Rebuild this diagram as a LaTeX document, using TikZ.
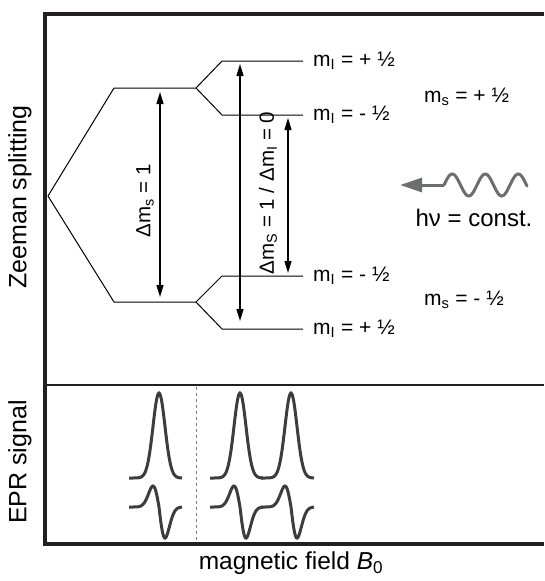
\documentclass[tikz,border=0pt]{standalone}
\usepackage{fontspec}
\setmainfont{Liberation Sans}
\usetikzlibrary{arrows.meta,positioning,calc}

\definecolor{framecol}{HTML}{231F20}
\definecolor{sigcol}{HTML}{3D3D3D}
\definecolor{wavecol}{HTML}{6D6E70}

\begin{document}
\begin{tikzpicture}[
  x=1pt, y=-1pt,
  >={Triangle[length=12pt,width=7pt]},
  level/.style={line width=1pt, line join=miter},
  trans/.style={<->, line width=1.4pt},
  frame/.style={line width=4pt, draw=framecol},
  lab/.style={anchor=west, inner sep=0pt, font=\fontsize{21}{24}\selectfont},
  translab/.style={rotate=90, inner sep=0pt, font=\fontsize{20.5}{24}\selectfont},
  axislab/.style={inner sep=0pt, font=\fontsize{25}{30}\selectfont},
  sig/.style={line width=3pt, draw=sigcol},
  wave/.style={line width=3pt, draw=wavecol},
]
\useasboundingbox (0,0) rectangle (544,581);

% frame: Zeeman panel above, EPR panel below
\draw[frame, line join=miter] (544,14) -- (45,14) -- (45,544) -- (544,544);
\draw[framecol, line width=2.5pt] (45,385) -- (544,385);

% energy levels
\coordinate (zero) at (48,196);
\coordinate (up)   at (114,88);
\coordinate (upS)  at (196,88);
\coordinate (dn)   at (114,302);
\coordinate (dnS)  at (196,302);
\coordinate (uuA) at (222,61);   \coordinate (uuE) at (303,61);
\coordinate (udA) at (222,115);  \coordinate (udE) at (303,115);
\coordinate (duA) at (222,276);  \coordinate (duE) at (303,276);
\coordinate (ddA) at (222,329);  \coordinate (ddE) at (303,329);

\draw[level] (zero) -- (up) -- (upS);
\draw[level] (zero) -- (dn) -- (dnS);
\draw[level] (upS) -- (uuA) -- (uuE);
\draw[level] (upS) -- (udA) -- (udE);
\draw[level] (dnS) -- (duA) -- (duE);
\draw[level] (dnS) -- (ddA) -- (ddE);

% level labels
\node[lab, right=10pt of uuE] (mIa) {m\textsubscript{I} = + ½};
\node[lab, right=10pt of udE] (mIb) {m\textsubscript{I} = - ½};
\node[lab, right=10pt of duE] (mIc) {m\textsubscript{I} = - ½};
\node[lab, right=10pt of ddE] (mId) {m\textsubscript{I} = + ½};
\node[lab] (msUp) at (424,97)  {m\textsubscript{s} = + ½};
\node[lab] (msDn) at (424,300) {m\textsubscript{s} = - ½};

% transitions
\draw[trans, shorten <=4pt, shorten >=5pt] (160,88) -- (160,302);
\draw[trans, shorten <=3pt, shorten >=8pt] (240,61) -- (240,329);
\draw[trans, shorten <=3pt, shorten >=3pt] (288,115) -- (288,276);
\node[translab] (dms)  at (145,201) {Δm\textsubscript{s} = 1};
\node[translab] (dmsi) at (268,193) {Δm\textsubscript{S} = 1 / Δm\textsubscript{I} = 0};

% microwave quantum
\coordinate (wv)    at (444,185);
\coordinate (wvtip) at (400,185);
\draw[wave, -{Triangle[length=22pt,width=14pt]}] (wv) -- (wvtip);
\draw[wave, line cap=round] plot[domain=444:527, samples=70, smooth]
  (\x, {185-11*sin(10.909*(\x-444))});
\node[inner sep=0pt, font=\fontsize{24}{28}\selectfont] (hv) at (474,218) {hν = const.};

% EPR signals: absorption and first derivative
\foreach \c in {159,240,291} {
  \draw[sig] plot[domain=\c-30:\c+23, samples=70, smooth]
    (\x, {478-85*exp(-((\x-\c)/6)^2/2)});
  \draw[sig] plot[domain=\c-30:\c+23, samples=70, smooth]
    (\x, {507+((\x<\c) ? 21 : 31)*((\x-\c)/6)*exp(-((\x-\c)/6)^2/2)/0.6065});
}
\draw[dashed, draw=gray, line width=0.8pt] (196,387) -- (196,542);

% axis labels
\node[axislab, rotate=90] (zeeman) at (20,197) {Zeeman splitting};
\node[axislab, rotate=90] (epr)    at (20,462) {EPR signal};
\node[axislab, font=\fontsize{24.5}{28}\selectfont] (field) at (291,563) {magnetic field \textit{B}\textsubscript{0}};

\end{tikzpicture}
\end{document}
